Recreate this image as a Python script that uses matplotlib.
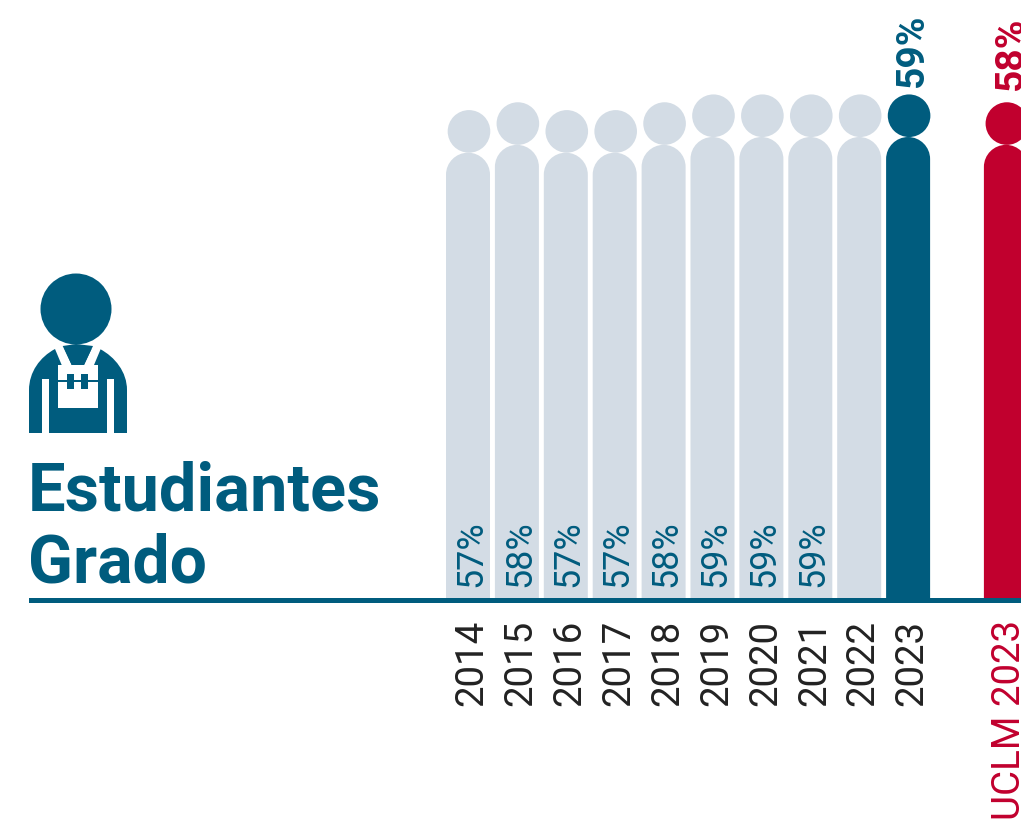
import matplotlib
matplotlib.use('Agg')
import matplotlib.pyplot as plt
from matplotlib.patches import Circle, Ellipse, PathPatch, Polygon, Rectangle
from matplotlib.path import Path

plt.rcParams['font.family'] = ['Roboto', 'DejaVu Sans']

years = ['2014', '2015', '2016', '2017', '2018', '2019', '2020', '2021', '2022', '2023']
values = [57, 58, 57, 57, 58, 59, 59, 59, 59, 59]
labels = ['57%', '58%', '57%', '57%', '58%', '59%', '59%', '59%', '', '59%']
uclm_name = 'UCLM 2023'
uclm_value = 58
uclm_label = '58%'

GREY = '#D3DCE5'
BLUE = '#005C7E'
RED = '#C1002E'
DARK = '#222222'

W, H = 1021, 820
BASE_PX = 600        # baseline row
PX_PER_PCT = 7.83
STEP_PX = 48.9
FIRST_X_PX = 468
BODY_W = 44
HEAD_R = 21.3


def px(n):
    # pixels to points at dpi 100
    return n * 0.72


def draw_person(ax, x, value, color):
    # rounded body plus round head, all in data units
    hw = BODY_W / 2 / STEP_PX
    ry = BODY_W / 2 / PX_PER_PCT
    k = 0.5523
    verts = [(x - hw, 0), (x - hw, value - ry),
             (x - hw, value - ry + k * ry), (x - k * hw, value), (x, value),
             (x + k * hw, value), (x + hw, value - ry + k * ry), (x + hw, value - ry),
             (x + hw, 0), (x - hw, 0)]
    codes = [Path.MOVETO, Path.LINETO, Path.CURVE4, Path.CURVE4, Path.CURVE4,
             Path.CURVE4, Path.CURVE4, Path.CURVE4, Path.LINETO, Path.CLOSEPOLY]
    ax.add_patch(PathPatch(Path(verts, codes), facecolor=color, edgecolor='none'))
    head_h = 2 * HEAD_R / PX_PER_PCT
    ax.add_patch(Ellipse((x + 0.02, value + head_h / 2), 2 * HEAD_R / STEP_PX, head_h,
                         facecolor=color, edgecolor='none'))


def draw_icon(ax):
    ax.add_patch(Circle((76, 310), 35.5, facecolor=BLUE, edgecolor='none'))
    verts = [(29, 434), (29, 391), (29, 373), (40, 358), (55, 350), (100, 350),
             (115, 358), (127, 373), (127, 391), (127, 434), (29, 434)]
    codes = [Path.MOVETO, Path.LINETO, Path.CURVE4, Path.CURVE4, Path.CURVE4, Path.LINETO,
             Path.CURVE4, Path.CURVE4, Path.CURVE4, Path.LINETO, Path.CLOSEPOLY]
    ax.add_patch(PathPatch(Path(verts, codes), facecolor=BLUE, edgecolor='none'))
    # straps, bib and side gaps
    white = [[(55, 350), (62.7, 346), (71.7, 366), (61.7, 366)],
             [(100.7, 350), (93.3, 346), (84, 366), (94, 366)]]
    for pts in white:
        ax.add_patch(Polygon(pts, facecolor='white', edgecolor='none'))
    ax.add_patch(Rectangle((57.7, 366), 40.6, 42.7, facecolor='white', edgecolor='none'))
    ax.add_patch(Rectangle((41.7, 380.3), 7, 54, facecolor='white', edgecolor='none'))
    ax.add_patch(Rectangle((107, 380.3), 7, 54, facecolor='white', edgecolor='none'))
    # collar
    ax.add_patch(Polygon([(62.7, 347), (76, 345), (93, 347), (84, 366), (71.7, 366)],
                         facecolor=BLUE, edgecolor='none'))
    # bib pocket
    ax.add_patch(Rectangle((57.7, 381), 40.6, 2.2, facecolor=BLUE, edgecolor='none'))
    ax.add_patch(Rectangle((67.3, 375), 6.7, 14.7, facecolor=BLUE, edgecolor='none'))
    ax.add_patch(Rectangle((81.3, 375), 7, 14.7, facecolor=BLUE, edgecolor='none'))


fig = plt.figure(figsize=(W / 100, H / 100), dpi=100)

# pixel layer for icon, title and rule
bg = fig.add_axes([0, 0, 1, 1])
bg.set_xlim(0, W)
bg.set_ylim(H, 0)
bg.axis('off')

draw_icon(bg)
bg.text(28, 511, 'Estudiantes', color=BLUE, fontsize=px(66.8), fontweight='bold', va='baseline')
bg.text(28, 583, 'Grado', color=BLUE, fontsize=px(66), fontweight='bold', va='baseline')

# chart layer: x in category slots, y in percent, zero on the baseline
ax = fig.add_axes([0, 0, 1, 1], facecolor='none')
ax.set_xlim(-FIRST_X_PX / STEP_PX, (W - FIRST_X_PX) / STEP_PX)
ax.set_ylim((BASE_PX - H) / PX_PER_PCT, BASE_PX / PX_PER_PCT)
ax.axis('off')

uclm_x = len(years) + 1

for i, v in enumerate(values):
    last = i == len(values) - 1
    draw_person(ax, i, v, BLUE if last else GREY)
    ax.annotate(years[i], (i, 0), xytext=(px(4), px(-20)), textcoords='offset points', rotation=90,
                ha='center', va='top', fontsize=px(38.5), color=DARK)
    if last:
        ax.annotate(labels[i], (i, v), xytext=(px(4), px(2 * HEAD_R + 8)), textcoords='offset points',
                    rotation=90, ha='center', va='bottom', fontsize=px(39), color=BLUE, fontweight='bold')
    elif labels[i]:
        ax.annotate(labels[i], (i, 0), xytext=(px(3), px(13)), textcoords='offset points', rotation=90,
                    ha='center', va='bottom', fontsize=px(36), color=BLUE)

draw_person(ax, uclm_x, uclm_value, RED)
ax.annotate(uclm_label, (uclm_x, uclm_value), xytext=(px(6), px(2 * HEAD_R + 13)),
            textcoords='offset points', rotation=90, ha='center', va='bottom',
            fontsize=px(39), color=RED, fontweight='bold')
ax.annotate(uclm_name, (uclm_x, 0), xytext=(px(4), px(-20)), textcoords='offset points', rotation=90,
            ha='center', va='top', fontsize=px(38.5), color=RED)

# baseline rule on top of the figures
ax.add_patch(Rectangle((-FIRST_X_PX / STEP_PX + 29 / STEP_PX, -3.5 / PX_PER_PCT), (W - 29) / STEP_PX,
                       5 / PX_PER_PCT, facecolor=BLUE, edgecolor='none', zorder=5))

fig.savefig('out.png', dpi=100)
